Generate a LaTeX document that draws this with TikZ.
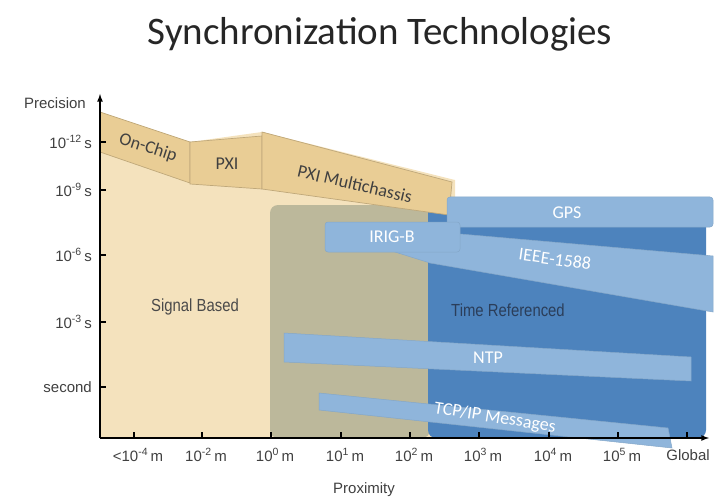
\documentclass[tikz,border=0pt]{standalone}
\usepackage{fontspec}
\setmainfont{Liberation Sans}
\newfontfamily\barfont{Carlito}
\newfontfamily\narrowfont{Liberation Sans}[FakeStretch=0.85]
\usetikzlibrary{positioning}
\definecolor{sandbg}{HTML}{F4E2BD}
\definecolor{olivebg}{HTML}{BCB89B}
\definecolor{bluebg}{HTML}{4D83BD}
\definecolor{tanbar}{HTML}{E9CD95}
\definecolor{skybar}{HTML}{8FB5DB}
\definecolor{labelgray}{HTML}{4A4A4A}
\definecolor{navytext}{HTML}{2B3E5A}
\tikzset
{
	tanband/.style  = {fill=tanbar, draw=tanbar!82!black, line width=0.7pt},
	skyband/.style  = {fill=skybar, draw=skybar!92!black, line width=0.5pt},
	bandtext/.style = {font=\barfont\fontsize{18}{20}\selectfont, text=black!75, inner sep=0pt},
	whitetext/.style = {font=\barfont\fontsize{18}{20}\selectfont, text=white, inner sep=0pt},
	ticklabel/.style = {font=\fontsize{15}{17}\selectfont, text=black!75, inner sep=0pt},
	zonetext/.style = {font=\narrowfont\fontsize{17.5}{19}\selectfont, inner sep=0pt}
}

\begin{document}
\begin{tikzpicture}[x=1pt, y=-1pt]
\useasboundingbox (0,0) rectangle (725,497);

% title
\node[font=\barfont\fontsize{39}{44}\selectfont, text=black!85, anchor=base] (title) at (380,45) {Synchronization Technologies};

% zones
\fill[sandbg] (100,112) -- (190,142) -- (262,132) -- (455,180) -- (455,438) -- (100,438) -- cycle;
\fill[olivebg, rounded corners=8pt] (270,438) -- (270,205) -- (430,205) -- (430,438) -- cycle;
\fill[bluebg, rounded corners=8pt] (428,438) -- (428,200) -- (706,200) -- (706,438) -- cycle;

% signal based bands
\path[tanband] (100,112) -- (190,142) -- (190,183) -- (100,152) -- cycle;
\path[tanband] (190,142) -- (262,136) -- (262,189) -- (190,184) -- cycle;
\path[tanband] (262,132) -- (452,182) -- (449,215) -- (262,189) -- cycle;
\node[bandtext, rotate=-18] (onchip) at (148,148) {On-Chip};
\node[bandtext] (pxi) at (227,164) {PXI};
\node[bandtext, rotate=-13] (multi) at (355,184) {PXI Multichassis};

% time referenced bands
\path[skyband] (395,240) -- (460,234) -- (713,256) -- (713,312) -- (430,263) -- (395,252) -- cycle;
\path[skyband, rounded corners=3pt] (447,197) rectangle (713,227);
\path[skyband, rounded corners=3pt] (325,222) rectangle (460,252);
\path[skyband] (284,333) -- (691,357) -- (691,381) -- (284,362) -- cycle;
\path[skyband] (319,393) -- (668,428) -- (672,448) -- (319,410) -- cycle;
\node[whitetext] (gps) at (567,213) {GPS};
\node[whitetext] (irigb) at (392,237) {IRIG-B};
\node[whitetext, rotate=-8] (ieee) at (555,259) {IEEE-1588};
\node[whitetext] (ntp) at (488,358) {NTP};
\node[whitetext, rotate=-9] (tcpip) at (495,418) {TCP/IP Messages};

\node[zonetext, text=labelgray] (signal) at (195,307) {Signal Based};
\node[zonetext, text=navytext] (timeref) at (508,310) {Time Referenced};

% axes
\coordinate (origin) at (100,438);
\coordinate (ytop) at (100,94);
\coordinate (xend) at (709,438);
\draw[line width=1.6pt, -latex] (origin) -- (ytop);
\draw[line width=1.6pt, -latex] (origin) -- (xend);
\node[ticklabel, anchor=east] (prec) at (86,103) {Precision};
\node[ticklabel] (prox) at (364,490) {Proximity};

\foreach \yy/\lab in {142/{10\textsuperscript{-12}\,s}, 190/{10\textsuperscript{-9}\,s}, 255/{10\textsuperscript{-6}\,s}, 322/{10\textsuperscript{-3}\,s}, 387/second}
{
	\draw[line width=1.4pt] (100,\yy) -- (106,\yy);
	\node[ticklabel, anchor=east] (ytick\yy) at (92,\yy) {\lab};
}
\foreach \xx/\lab in {134/{<10\textsuperscript{-4}\,m}, 202/{10\textsuperscript{-2}\,m}, 271/{10\textsuperscript{0}\,m}, 341/{10\textsuperscript{1}\,m}, 410/{10\textsuperscript{2}\,m}, 479/{10\textsuperscript{3}\,m}, 549/{10\textsuperscript{4}\,m}, 618/{10\textsuperscript{5}\,m}}
{
	\draw[line width=1.4pt] (\xx,438) -- (\xx,432);
	\node[ticklabel] (xtick\xx) at (\xx+4,455) {\lab};
}
\draw[line width=1.4pt] (687,438) -- (687,432);
\node[ticklabel] (global) at (688,455) {Global};
\end{tikzpicture}
\end{document}
